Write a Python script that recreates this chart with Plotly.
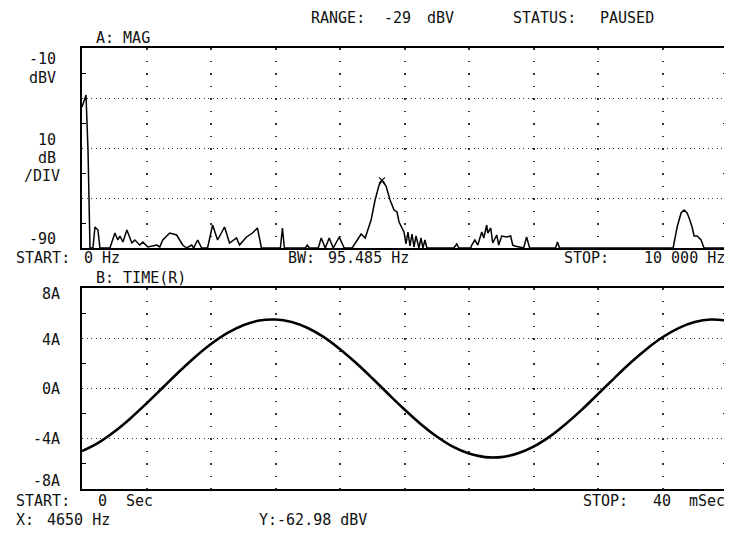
import plotly.graph_objects as go

# ---------------- data ----------------
spec_freq_hz = [0, 62, 93, 124, 170, 201, 247, 278, 433, 510, 556, 587, 634, 696, 773, 819,
                896, 943, 1020, 1159, 1206, 1252, 1360, 1468, 1561, 1623, 1700, 1731, 1793,
                1855, 1947, 2025, 2102, 2210, 2287, 2396, 2442, 2550, 2643, 2720, 2782, 3076,
                3107, 3138, 3462, 3493, 3524, 3663, 3709, 3771, 3833, 3895, 3988, 4065, 4188,
                4266, 4328, 4390, 4436, 4482, 4544, 4606, 4650, 4714, 4776, 4838, 4884, 4915,
                4961, 4992, 5023, 5054, 5085, 5116, 5147, 5178, 5224, 5255, 5286, 5317, 5348,
                5765, 5811, 5842, 6028, 6043, 6090, 6136, 6198, 6229, 6275, 6291, 6337, 6368,
                6430, 6461, 6507, 6584, 6646, 6677, 6708, 6847, 6893, 6940, 7342, 7372, 7403,
                9165, 9227, 9288, 9335, 9381, 9413, 9459, 9490, 9536, 9598, 9644, 10000]
spec_dbv = [-33.6, -28.8, -50.8, -90, -90, -81.6, -82.8, -90, -90, -84, -86.8, -85.2, -87.6,
            -82.8, -88, -86.8, -88.8, -87.6, -89.6, -88.8, -89.6, -86.8, -84, -84.8, -88.8,
            -90, -88.8, -90, -86.8, -90, -90, -80.8, -86.8, -81.6, -88, -86, -88.8, -85.6,
            -84, -82, -90, -90, -82, -90, -90, -88.8, -90, -90, -86, -90, -86, -90, -85.6,
            -90, -90, -86.8, -84.4, -86, -82, -78.8, -70.8, -64.8, -62.98, -65.2, -70.8,
            -74.8, -75.6, -79.6, -82, -83.6, -88.4, -83.6, -89.2, -84.4, -89.6, -85.2, -90,
            -86, -90, -86.8, -90, -90, -88.4, -90, -90, -88.8, -86.8, -88.8, -83.6, -86,
            -80.8, -84, -82, -88, -84.8, -88.8, -85.2, -85.6, -85.2, -88.8, -89.2, -90,
            -85.6, -90, -90, -87.6, -90, -90, -81.6, -76, -74.8, -76, -78, -81.6, -85.2,
            -85.2, -86.8, -90, -90]

time_ms = list(range(0, 41))
current_a = [-4.99, -4.33, -3.44, -2.38, -1.19, 0.06, 1.31, 2.49, 3.54, 4.40, 5.04, 5.41,
             5.49, 5.29, 4.82, 4.09, 3.13, 2.03, 0.82, -0.44, -1.67, -2.82, -3.82, -4.63,
             -5.18, -5.46, -5.46, -5.18, -4.63, -3.83, -2.82, -1.68, -0.44, 0.81, 2.03,
             3.13, 4.08, 4.81, 5.29, 5.49, 5.41]

marker_hz = [4650]
marker_dbv = [-62.98]

# ---------------- figure ----------------
# the page has an 8px body margin: the figure starts at (8, 8) in the window
OFF = 8
W, H = 732 - OFF, 533 - OFF
L, R, T, B = 82 - OFF, W - (729 - OFF), 48 - OFF, H - (489 - OFF)
PW, PH = W - L - R, H - T - B
FONT = dict(family="DejaVu Sans Mono", size=15, color="#111")

fig = go.Figure()
fig.add_trace(go.Scatter(x=spec_freq_hz, y=spec_dbv, mode="lines",
                         line=dict(color="black", width=1.5), xaxis="x", yaxis="y",
                         showlegend=False, hoverinfo="skip"))
fig.add_trace(go.Scatter(x=marker_hz, y=marker_dbv, mode="markers",
                         marker=dict(symbol="x-thin", size=6, color="black",
                                     line=dict(color="black", width=1.2)),
                         xaxis="x", yaxis="y", showlegend=False, hoverinfo="skip"))
fig.add_trace(go.Scatter(x=time_ms, y=current_a, mode="lines",
                         line=dict(color="black", width=2.6, shape="spline"),
                         xaxis="x2", yaxis="y2", showlegend=False, hoverinfo="skip"))

top_lo = (489 - 248) / PH
bot_hi = (489 - 288) / PH

xgrid = dict(showgrid=True, gridcolor="#333", gridwidth=1.5, griddash="1.5px,11px",
             showticklabels=False, ticks="", zeroline=False, showline=True,
             linecolor="black", linewidth=1.6, mirror=True)
ygrid = dict(showgrid=True, gridcolor="#333", gridwidth=1.3, griddash="1.3px,3.2px",
             showticklabels=False, ticks="", zeroline=False, showline=True,
             linecolor="black", linewidth=1.6, mirror="ticks")

fig.update_layout(
    width=W, height=H, margin=dict(l=L, r=R, t=T, b=B),
    paper_bgcolor="white", plot_bgcolor="white",
    xaxis=dict(domain=[0, 1], range=[0, 10000], anchor="y", tick0=0, dtick=1000, **xgrid),
    yaxis=dict(domain=[top_lo, 1], range=[-90, -10], anchor="x", tick0=-10, dtick=20,
               minor=dict(dtick=10, ticks="inside", ticklen=4, tickcolor="black",
                          tickwidth=1.2, showgrid=False),
               **ygrid),
    xaxis2=dict(domain=[0, 1], range=[0, 40], anchor="y2", tick0=0, dtick=4, **xgrid),
    yaxis2=dict(domain=[0, bot_hi], range=[-8, 8], anchor="x2", tick0=-8, dtick=4,
                minor=dict(dtick=2, ticks="inside", ticklen=4, tickcolor="black",
                           tickwidth=1.2, showgrid=False),
                **ygrid),
)


def label(text, x, y, anchor="left"):
    # x, y are window pixel positions of the reference
    fig.add_annotation(text=text, xref="paper", yref="paper",
                       x=(x - OFF - L) / PW, y=(489 - y) / PH,
                       xanchor=anchor, yanchor="middle",
                       showarrow=False, font=FONT)


label("RANGE:", 310, 18)
label("-29", 383, 18)
label("dBV", 426, 18)
label("STATUS:", 512, 18)
label("PAUSED", 600, 18)
label("A: MAG", 94, 38)
label("-10", 58, 59, "right")
label("dBV", 58, 78, "right")
label("10", 58, 140, "right")
label("dB", 58, 158, "right")
label("/DIV", 62, 176, "right")
label("-90", 58, 239, "right")
label("START:", 14, 258)
label("0 Hz", 82, 258)
label("BW:", 287, 258)
label("95.485 Hz", 327, 258)
label("STOP:", 563, 258)
label("10 000 Hz", 729, 258, "right")
label("B: TIME(R)", 94, 278)
label("8A", 62, 294, "right")
label("4A", 62, 340, "right")
label("0A", 62, 389, "right")
label("-4A", 62, 439, "right")
label("-8A", 62, 481, "right")
label("START:", 14, 501)
label("0", 96, 501)
label("Sec", 124, 501)
label("STOP:", 583, 501)
label("40", 653, 501)
label("mSec", 729, 501, "right")
label("X:", 14, 520)
label("4650 Hz", 45, 520)
label("Y:-62.98 dBV", 258, 520)

fig.write_html("out.html")
